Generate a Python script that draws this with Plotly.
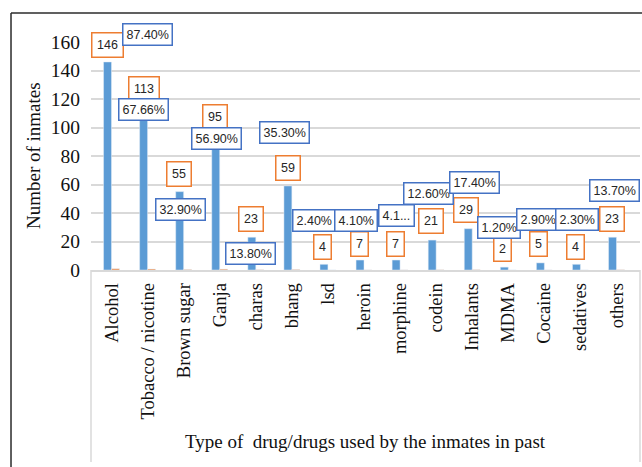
import plotly.graph_objects as go

# Substances reported by inmates
drugs = ["Alcohol", "Tobacco / nicotine", "Brown sugar", "Ganja", "charas", "bhang",
         "lsd", "heroin", "morphine", "codein", "Inhalants", "MDMA", "Cocaine",
         "sedatives", "others"]
# Number of inmates who used each substance
counts = [146, 113, 55, 95, 23, 59, 4, 7, 7, 21, 29, 2, 5, 4, 23]
# Share of inmates (%)
percents = [87.40, 67.66, 32.90, 56.90, 13.80, 35.30, 2.40, 4.10, 4.10, 12.60,
            17.40, 1.20, 2.90, 2.30, 13.70]
y_ticks = [0, 20, 40, 60, 80, 100, 120, 140, 160]
Y_MAX = 160
PX_PER_UNIT = 228 / Y_MAX

# Hand-placed data-label positions: (y in axis units, horizontal shift in px)
count_label_pos = [(157.9, -4), (126.7, -4), (67.4, -4.5), (107.4, -5), (35.8, -4.7),
                   (71.6, -4), (15.8, -5), (18.6, -4.5), (18.6, -4.6), (34.4, -4.7),
                   (42.1, -5.8), (14.4, -5.4), (18.2, -5.5), (15.8, -5), (35.8, -5)]
pct_label_pos = [(165.1, 35.5), (112.3, -4), (42.8, -3.5), (92.6, -3.6), (11.9, -5),
                 (96.8, -7), (34.4, -14), (34.7, -8.5), (37.9, -3.6), (54.0, -7.7),
                 (61.1, 2.2), (29.5, -9), (35.1, -6.5), (35.1, -3), (56.1, -2)]
truncated = {"morphine"}

BLUE = "#5B9BD5"
ORANGE = "#ED7D31"
LABEL_BLUE = "#4472C4"
GRID = "#D9D9D9"
SERIF = "Liberation Serif, Times New Roman, serif"
SANS = "Liberation Sans, Arial, sans-serif"

fig = go.Figure()
fig.add_trace(go.Bar(x=drugs, y=counts, marker_color=BLUE, name="Number"))
fig.add_trace(go.Bar(x=drugs, y=[p / 100 for p in percents], marker_color=ORANGE,
                     name="Percent"))


def label(name, ly, dx, text, border, pad):
    # labels above the axis maximum are anchored at the top and shifted up
    yshift = 0
    if ly > Y_MAX:
        yshift = (ly - Y_MAX) * PX_PER_UNIT
        ly = Y_MAX
    return dict(
        x=name, y=ly, xref="x", yref="y", text=text, showarrow=False,
        xshift=dx, yshift=yshift, font=dict(family=SANS, size=12.5, color="#262626"),
        bgcolor="white", bordercolor=border, borderwidth=1.5, borderpad=pad)


annotations = []
for name, c, (ly, dx) in zip(drugs, counts, count_label_pos):
    annotations.append(label(name, ly, dx, str(c), ORANGE, 4.5))
for name, p, (ly, dx) in zip(drugs, percents, pct_label_pos):
    txt = f"{p:.2f}%"
    if name in truncated:
        txt = txt[:3] + "..."
    annotations.append(label(name, ly, dx, txt, LABEL_BLUE, 3))

# Axis titles
annotations.append(dict(
    x=-0.1056, y=0.5, xref="paper", yref="paper", text="Number of inmates",
    textangle=-90, showarrow=False, xanchor="center", yanchor="middle",
    font=dict(family=SERIF, size=19, color="#111")))
annotations.append(dict(
    x=0.5, y=-0.75, xref="paper", yref="paper",
    text="Type of&nbsp; drug/drugs used by the inmates in past",
    showarrow=False, xanchor="center", yanchor="middle",
    font=dict(family=SERIF, size=19, color="#111")))

shapes = [
    # outer chart frame
    dict(type="line", xref="paper", yref="paper", x0=-0.1457, x1=1.01, y0=1.127, y1=1.127,
         line=dict(color="#2b2b2b", width=1.5)),
    dict(type="line", xref="paper", yref="paper", x0=-0.1457, x1=-0.1457, y0=1.127, y1=-0.87,
         line=dict(color="#2b2b2b", width=1.5)),
    # category-axis box sides
    dict(type="line", xref="paper", yref="paper", x0=0, x1=0, y0=0, y1=-0.842,
         line=dict(color=GRID, width=1.5)),
    dict(type="line", xref="paper", yref="paper", x0=1, x1=1, y0=0, y1=-0.842,
         line=dict(color=GRID, width=1.5)),
]

fig.update_layout(
    width=642, height=467,
    margin=dict(l=91, r=2, t=42, b=197),
    paper_bgcolor="white", plot_bgcolor="white",
    barmode="group", bargap=0.56, bargroupgap=0,
    showlegend=False,
    annotations=annotations, shapes=shapes,
)
fig.update_xaxes(
    type="category", tickangle=-90, ticks="", showline=True, linecolor=GRID,
    linewidth=1.5, showgrid=False, ticklabelstandoff=4,
    tickfont=dict(family=SERIF, size=18.5, color="#111"),
)
fig.update_yaxes(
    range=[0, Y_MAX], tickvals=y_ticks, ticks="", showline=False,
    showgrid=True, gridcolor=GRID, gridwidth=1.5, zeroline=False,
    ticklabelstandoff=10,
    tickfont=dict(family=SERIF, size=19.5, color="#111"),
)

fig.write_html("out.html")
